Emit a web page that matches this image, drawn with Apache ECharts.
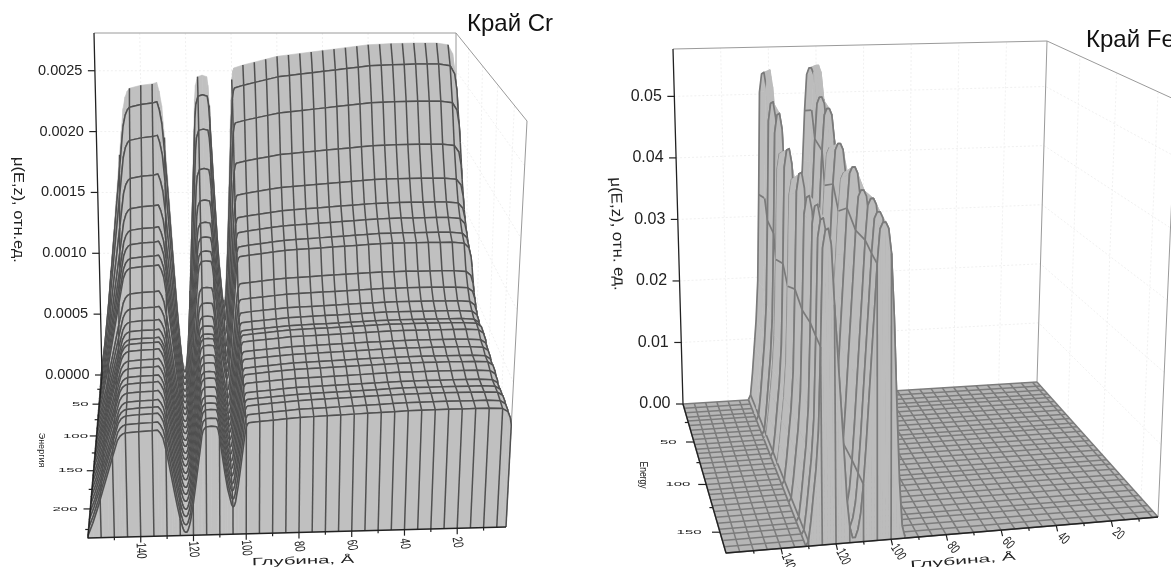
<!DOCTYPE html>
<html><head><meta charset="utf-8">
<script src="https://cdn.jsdelivr.net/npm/echarts@6/dist/echarts.min.js"></script>
<style>html,body{margin:0;background:#fff}#c{width:1171px;height:567px}#c canvas{filter:blur(.4px)}</style></head>
<body><div id="c"></div>
<script>
// ---- Cr edge: values
const crEnergy=[0,9,19,28,38,47,56,66,75,85,94,103,113,122,132,141,150,160,169,179,188,197,207,216,226,235];
const crLevel=[.00238,.00225,.00201,.00173,.00152,.00138,.00130,.00123,.00119,.00103,.00095,.00089,.00086,.00084,.00085,.00084,.00081,.00080,.00078,.00078,.00076,.00074,.00074,.00074,.00073,.00072];
const crDepth=[160,158,156,155,154,152,150,149,148,147,146,145,140,135,133,132,131,130,129,128,127,126,125,124,123.5,123,122.5,122,121.5,121,120,119,118,117,116.5,116,115,113,111,110.5,110,109,108,107,106,105.5,105,104.5,104,103,102,101,100.5,100,99.5,99,95,90,85,80,75,70,65,60,55,50,45,40,35,30,25,20,15,10,5,3,2,1.5];
const crShape=[.02,.14,.28,.36,.44,.6,.76,.84,.92,.96,.98,.99,1,1.005,1.01,.98,.93,.82,.69,.55,.41,.28,.16,.07,.04,.03,.03,.05,.09,.14,.29,.47,.66,.85,.95,1,1.03,1.035,1.03,1,.93,.75,.58,.43,.33,.28,.26,.27,.31,.46,.65,.85,.95,1.02,1.05,1.06,1.07,1.08,1.09,1.1,1.105,1.11,1.115,1.12,1.125,1.13,1.135,1.14,1.142,1.144,1.145,1.146,1.146,1.146,1.14,1.11,1.05,.98];
const crMuTicks=[0,.0005,.001,.0015,.002,.0025];
const crMuLabels=['0.0000','0.0005','0.0010','0.0015','0.0020','0.0025'];
const crEnergyTicks=[50,100,150,200];
const crEnergyMinor=[25,75,125,175,225];
const crDepthTicks=[140,120,100,80,60,40,20];
const crDepthMinor=[150,130,110,90,70,50,30,10];
// ---- Fe edge: values
const feFloorEnergy=[0,6,12,18,23,29,35,41,47,53,59,64,70,76,82,88,94,100,106,111,117,123,129,135,141,147,152,158,164,170];
const feFloorDepth=[160,155,150,145,140,135,130,125,120,115,110,105,100,95,90,85,80,75,70,65,60,55,50,45,40,35,30,25,20,15,10,5,3];
const feEnergy=[0,20,28,47,53,74,87,107,126,146,159,170];
const feLevel=[.0541,.0557,.0510,.0504,.0447,.0468,.0433,.0457,.0438,.0442,.0434,.0429];
const feDepth=[131,130,129,128,127,126,125,124,123,122,121,120,119,118,117,116,115,114,113,112,111,110,109,108,107,106,105,104,103,102,101,100,99,98,97,96,95];
const feShape=[.001,.015,.08,.16,.24,.36,.62,.93,.985,.99,.94,.75,.6,.45,.3,.14,.05,.015,.015,.04,.09,.18,.3,.44,.58,.72,.87,.98,1,1,.98,.9,.7,.42,.18,.04,.005];
const feMuTicks=[0,.01,.02,.03,.04,.05];
const feMuLabels=['0.00','0.01','0.02','0.03','0.04','0.05'];
const feEnergyTicks=[50,100,150];
const feEnergyMinor=[25,75,125];
const feDepthTicks=[140,120,100,80,60,40,20];
const feDepthMinor=[150,130,110,90,70,50,30,10];

function makePanel(c){
  const bil=(q,u,f)=>{
    const lx=q[0][0]+(q[3][0]-q[0][0])*f,ly=q[0][1]+(q[3][1]-q[0][1])*f;
    const rx=q[1][0]+(q[2][0]-q[1][0])*f,ry=q[1][1]+(q[2][1]-q[1][1])*f;
    return [lx+(rx-lx)*u,ly+(ry-ly)*u];
  };
  c.proj=(z,E,mu)=>{
    const u=(c.zMax-z)/(c.zMax-c.zMin),v=E/c.eMax,f=v/(v+c.k*(1-v)),w=mu/c.muTop;
    const a=bil(c.floor,u,f),b=bil(c.top,u,f);
    return [a[0]+(b[0]-a[0])*w,a[1]+(b[1]-a[1])*w];
  };
  return c;
}
const F='"Liberation Sans",Arial,sans-serif';
const panels=[
 makePanel({floor:[[102,375],[456,375],[506,527],[88,538]],top:[[94,33],[456,33],[527,121],[76,128]],k:1.24,
  zMax:160,zMin:1.5,eMax:235,muTop:.00281,energy:crEnergy,level:crLevel,depth:crDepth,shape:crShape,hideCurve:[0],
  muTicks:crMuTicks,muLabels:crMuLabels,eTicks:crEnergyTicks,eMinor:crEnergyMinor,dTicks:crDepthTicks,dMinor:crDepthMinor,
  fill:'#c0c0c0',line:'#505050',lw:1.5,muFont:14.5,eOff:[17,10],eTick:7,dRot:[-88,-80],dOff:[0,14],dTick:6,
  muTitle:{text:'μ(E,z), отн.ед.',x:18,y:210,rot:-90,size:14,sx:1.17,sy:1.1},
  eTitle:{text:'Энергия',x:42,y:450,rot:-90,size:9,sx:1,sy:1.1},
  dTitle:{text:'Глубина, Å',x:303,y:561,rot:1.5,size:14,sx:1.45,sy:.75}}),
 makePanel({floor:[[683,404],[1037,382],[1158,517],[726,553]],top:[[673,49],[1047,41],[1176,100],[716,120]],k:1.217,
  zMax:160,zMin:3,eMax:170,muTop:.0577,energy:feEnergy,level:feLevel,depth:feDepth,shape:feShape,hideCurve:[1],
  floorEnergy:feFloorEnergy,floorDepth:feFloorDepth,floorLine:'#7c7c7c',floorFill:'#b6b6b6',
  muTicks:feMuTicks,muLabels:feMuLabels,eTicks:feEnergyTicks,eMinor:feEnergyMinor,dTicks:feDepthTicks,dMinor:feDepthMinor,
  fill:'#bcbcbc',line:'#7a7a7a',lw:1.7,muFont:16,eOff:[23,9],eTick:8,dRot:[-72,-35],dOff:[7,13],dTick:6,
  muTitle:{text:'μ(E,z), отн. ед.',x:617,y:234,rot:-88,size:14,sx:1.2,sy:1.1},
  eTitle:{text:'Energy',x:643,y:475,rot:-90,size:11,sx:.78,sy:1},
  dTitle:{text:'Глубина, Å',x:963,y:561,rot:4.5,size:14,sx:1.5,sy:.75}})
];
const line=(api,pts,color,w,dash)=>({type:'polyline',silent:true,shape:{points:pts.map(p=>api.coord(p))},
  style:{stroke:color,lineWidth:w,fill:null,lineDash:dash||null,lineJoin:'round'}});
const label=(api,p,t,o)=>{const c=api.coord(p);return {type:'text',silent:true,x:c[0],y:c[1],rotation:(o.rot||0)*Math.PI/180,
  scaleX:o.sx||1,scaleY:o.sy||1,style:{text:t,font:(o.size||12)+'px '+F,fill:o.fill||'#222',align:o.align||'center',verticalAlign:'middle'}};};

function wallsRender(c){return (params,api)=>{
  const kids=[];const eMax=c.eMax,zA=c.zMax,zB=c.zMin,topMu=c.muTop;
  const g='#ececec',d=[2,2];
  c.muTicks.slice(1).forEach(m=>{kids.push(line(api,[c.proj(zA,0,m),c.proj(zB,0,m),c.proj(zB,eMax,m)],g,.8,d));});
  c.dTicks.forEach(z=>{kids.push(line(api,[c.proj(z,0,0),c.proj(z,0,topMu)],g,.8,d));});
  c.eTicks.forEach(e=>{kids.push(line(api,[c.proj(zB,e,0),c.proj(zB,e,topMu)],g,.8,d));});
  kids.push(line(api,[c.proj(zA,0,topMu),c.proj(zB,0,topMu),c.proj(zB,eMax,topMu),c.proj(zB,eMax,0)],'#9a9a9a',1));
  kids.push(line(api,[c.proj(zB,0,topMu),c.proj(zB,0,0)],'#9a9a9a',1));
  return {type:'group',children:kids};
};}
function floorRender(c){return (params,api)=>{
  const kids=[],E=c.floorEnergy,D=c.floorDepth;
  const a=c.proj(D[0],E[0],0),b=c.proj(D[D.length-1],E[0],0),d=c.proj(D[D.length-1],E[E.length-1],0),e=c.proj(D[0],E[E.length-1],0);
  kids.push({type:'polygon',silent:true,shape:{points:[a,b,d,e].map(p=>api.coord(p))},style:{fill:c.floorFill}});
  E.forEach(en=>kids.push(line(api,[c.proj(D[0],en,0),c.proj(D[D.length-1],en,0)],c.floorLine,1.5)));
  D.forEach(z=>kids.push(line(api,[c.proj(z,E[0],0),c.proj(z,E[E.length-1],0)],c.floorLine,1.5)));
  return {type:'group',children:kids};
};}
function surfaceRender(c){
  const nd=c.depth.length,N=c.energy.length;
  const pt=(i,j)=>c.proj(c.depth[j],c.energy[i],c.level[i]*c.shape[j]);
  const isGrid=j=>j===0||j===nd-1||c.depth[j]%5===0;
  const curve=i=>{const r=[];for(let j=0;j<nd;j++)r.push(pt(i,j));return r;};
  const shown=i=>c.hideCurve.indexOf(i)<0;
  return (params,api)=>{
    const i=api.value(0),kids=[];
    const fillCell=(a,b,d,e)=>kids.push({type:'polygon',silent:true,shape:{points:[a,b,d,e].map(p=>api.coord(p))},
      style:{fill:c.fill,stroke:c.fill,lineWidth:.6}});
    if(i>0){
      for(let j=0;j<nd-1;j++)fillCell(pt(i-1,j),pt(i-1,j+1),pt(i,j+1),pt(i,j));
      for(let j=0;j<nd;j++)if(isGrid(j))kids.push(line(api,[pt(i-1,j),pt(i,j)],c.line,c.lw));
      if(shown(i-1)&&(i===1||c.level[i-1]>=c.level[i]*.98))kids.push(line(api,curve(i-1),c.line,c.lw));
      if(shown(i))kids.push(line(api,curve(i),c.line,c.lw));
    }
    if(i===N-1){
      const fb=j=>c.proj(c.depth[j],c.energy[i],0);
      for(let j=0;j<nd-1;j++)fillCell(pt(i,j),pt(i,j+1),fb(j+1),fb(j));
      for(let j=0;j<nd;j++)if(isGrid(j))kids.push(line(api,[pt(i,j),fb(j)],c.line,c.lw));
      kids.push(line(api,curve(i),c.line,c.lw));
    }
    return {type:'group',children:kids};
  };
}
function axesRender(c){return (params,api)=>{
  const kids=[];const zA=c.zMax,zB=c.zMin,eMax=c.eMax;
  const shift=(p,dx,dy)=>[p[0]+dx,p[1]+dy];
  kids.push(line(api,[c.proj(zA,0,c.muTop),c.proj(zA,0,0),c.proj(zA,eMax,0),c.proj(zB,eMax,0)],'#222',1.3));
  c.muTicks.forEach((m,k)=>{const p=c.proj(zA,0,m);
    kids.push(line(api,[p,shift(p,-7,0)],'#222',1.2));
    kids.push(label(api,shift(p,-12.5,0),c.muLabels[k],{size:c.muFont,align:'right'}));});
  c.eTicks.forEach(e=>{const p=c.proj(zA,e,0);
    kids.push(line(api,[p,shift(p,-c.eTick,0)],'#222',1.2));
    const v=e/eMax;
    kids.push(label(api,shift(p,-(c.eOff[0]+c.eOff[1]*v),0),String(e),{size:10,sx:1.5,sy:.62}));});
  c.eMinor.forEach(e=>{const p=c.proj(zA,e,0);kids.push(line(api,[p,shift(p,-3.5,0)],'#222',1.2));});
  c.dTicks.forEach(z=>{const p=c.proj(z,eMax,0),u=(zA-z)/(zA-zB);
    kids.push(line(api,[p,shift(p,c.dOff[0]*.2,c.dTick)],'#222',1.2));
    kids.push(label(api,shift(p,c.dOff[0],c.dOff[1]),String(z),{size:14,sx:.68,rot:c.dRot[0]+(c.dRot[1]-c.dRot[0])*u}));});
  c.dMinor.forEach(z=>{const p=c.proj(z,eMax,0);kids.push(line(api,[p,shift(p,c.dOff[0]*.08,3)],'#222',1.2));});
  [c.muTitle,c.eTitle,c.dTitle].forEach(t=>kids.push(label(api,[t.x,t.y],t.text,{size:t.size,rot:t.rot,sx:t.sx,sy:t.sy})));
  return {type:'group',children:kids};
};}
const series=[];
panels.forEach(c=>{
  series.push({type:'custom',silent:true,clip:false,animation:false,renderItem:wallsRender(c),data:[[0]],z:1});
  if(c.floorEnergy)series.push({type:'custom',silent:true,clip:false,animation:false,renderItem:floorRender(c),data:[[0]],z:1});
  series.push({type:'custom',silent:true,clip:false,animation:false,progressive:0,renderItem:surfaceRender(c),data:c.energy.map((e,i)=>[i,e]),encode:{x:0,y:1},z:2});
  series.push({type:'custom',silent:true,clip:false,animation:false,renderItem:axesRender(c),data:[[0]],z:3});
});
const chart=echarts.init(document.getElementById('c'),null,{width:1171,height:567});
chart.setOption({
  animation:false,backgroundColor:'#ffffff',
  title:[{text:'Край Cr',left:467,top:12,textStyle:{fontFamily:F,fontSize:24,fontWeight:'normal',color:'#111'},padding:0},
         {text:'Край Fe',left:1086,top:28,textStyle:{fontFamily:F,fontSize:24,fontWeight:'normal',color:'#111'},padding:0}],
  grid:{left:0,top:0,width:1171,height:567},
  xAxis:{type:'value',min:0,max:1171,show:false},
  yAxis:{type:'value',min:0,max:567,inverse:true,show:false},
  series
});
</script></body></html>
